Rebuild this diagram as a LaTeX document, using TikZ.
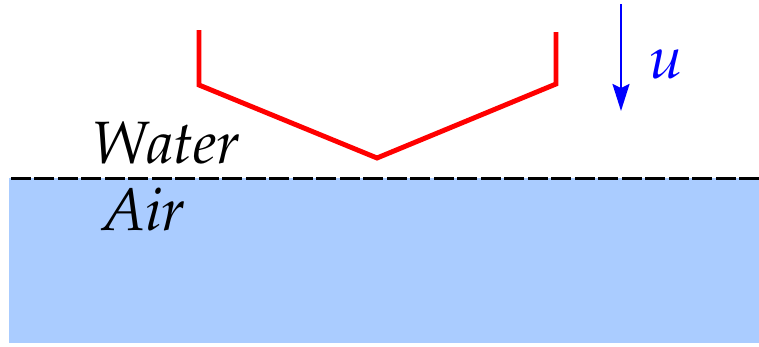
\documentclass[tikz,border=0pt]{standalone}
\usepackage[T1]{fontenc}
\usepackage{mathpazo}
\usetikzlibrary{arrows.meta}
\definecolor{airblue}{RGB}{170,204,255}
\tikzset{
  medium/.style={font=\fontsize{17}{20}\selectfont\itshape, inner sep=0pt},
  hull/.style={line width=1.4pt, red, line join=miter},
  interface/.style={line width=0.8pt, dash pattern=on 0.2cm off 0.035cm}
}
\begin{document}
\begin{tikzpicture}
    \useasboundingbox (0,0) rectangle (7.59,3.46);

    % Air region below the free surface
    \fill[airblue] (0.09,0.03) rectangle (7.59,1.68);

    % Free surface
    \coordinate (surfR) at (7.59,1.675);
    \coordinate (surfL) at (0.09,1.675);
    \draw[interface] (surfR) -- (surfL);

    % Labels of the two media
    \node[medium, anchor=base] (water) at (1.66,1.83) {Water};
    \node[medium, anchor=base] (air) at (1.435,1.16) {Air};

    % Wedge-shaped body
    \draw[hull] (1.99,3.16) -- (1.99,2.61) -- (3.77,1.88) -- (5.56,2.62) -- (5.56,3.14);

    % Velocity of the body
    \coordinate (vtop) at (6.21,3.42);
    \coordinate (vtip) at (6.21,2.35);
    \draw[blue, line width=0.6pt, -{Stealth[length=0.27cm, width=0.17cm, inset=0.04cm]}] (vtop) -- (vtip);
    \node[blue, inner sep=0pt, anchor=base, font=\fontsize{17}{20}\selectfont] (vel) at (6.66,2.68) {$u$};

\end{tikzpicture}
\end{document}
